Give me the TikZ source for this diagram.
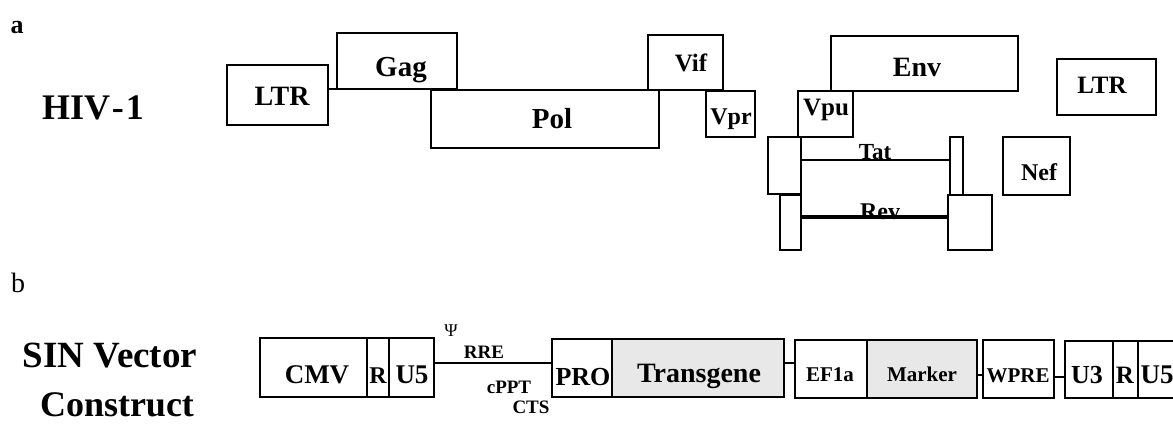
\documentclass[tikz,border=0pt]{standalone}
\usepackage{fontspec}
\setmainfont{Liberation Serif}
\usetikzlibrary{fit}
\newcommand\gbox[6][]{\node[box,#1,fit={(#3,#4) (#5,#6)}] (#2) {};}
\newcommand\fs[1]{\fontsize{#1}{#1}\selectfont\bfseries}
\begin{document}
\begin{tikzpicture}[x=1pt,y=-1pt,
  box/.style={draw, line width=2.2pt, inner sep=0pt, outer sep=0pt},
  conn/.style={line width=1.8pt},
  lbl/.style={anchor=base, inner sep=0pt, outer sep=0pt},
  shaded/.style={fill=black!9}]
\useasboundingbox (0,0) rectangle (1173,429);
% ---------- a ----------
\node[lbl, font=\fs{26}] (la) at (17,33) {a};
\node[lbl, font=\fs{36}] (hiv) at (93,119) {HIV\kern2pt-\kern2pt1};
\gbox{ltrA}{227}{65}{328}{125}
\gbox{gag}{337}{33}{457}{89}
\gbox{pol}{431}{90}{659}{148}
\gbox{vif}{648}{35}{723}{90}
\gbox{vpr}{706}{91}{755}{137}
\gbox{env}{831}{36}{1018}{91}
\gbox{ltrB}{1057}{59}{1156}{115}
\gbox{vpu}{798}{91}{853}{137}
\gbox{tatL}{768}{137}{801}{194}
\gbox{tatR}{950}{137}{963}{195}
\gbox{revL}{780}{195}{801}{250}
\gbox{revR}{948}{195}{992}{250}
\gbox{nef}{1003}{137}{1070}{195}
\node[lbl, font=\fs{28}] (tltrA) at (282,105) {LTR};
\node[lbl, font=\fs{29}] (tgag) at (401,76) {Gag};
\node[lbl, font=\fs{29}] (tpol) at (552,128) {Pol};
\node[lbl, font=\fs{25}] (tvif) at (691,71) {Vif};
\node[lbl, font=\fs{24}] (tvpr) at (731,124) {Vpr};
\node[lbl, font=\fs{28}] (tenv) at (917,76) {Env};
\node[lbl, font=\fs{25}] (tltrB) at (1102,93) {LTR};
\node[lbl, font=\fs{25}] (tvpu) at (826,115) {Vpu};
\node[lbl, font=\fs{23}] (ttat) at (875,159) {Tat};
\node[lbl, font=\fs{24}] (tnef) at (1039,180) {Nef};
\node[lbl, font=\fs{24}] (trev) at (880,219) {Rev};
\draw[conn] (gag.south west) -- (gag.south west -| ltrA.east);
\coordinate (tatY) at (0,160);
\coordinate (revY) at (0,217);
\draw[conn] (tatL.east |- tatY) -- (tatR.west |- tatY);
\draw[line width=4pt] (revL.east |- revY) -- (revR.west |- revY);
% ---------- b ----------
\node[lbl, font=\fontsize{28}{28}\selectfont] (lb) at (18,292) {b};
\node[lbl, font=\fs{37}] (sin) at (110,367) {SIN Vector};
\node[lbl, font=\fs{36}] (cons) at (117,416) {Construct};
\gbox{cmv}{260}{338}{367}{397}
\gbox{rA}{367}{338}{389}{397}
\gbox{u5A}{389}{338}{434}{397}
\gbox{pro}{552}{339}{612}{397}
\gbox[shaded]{trans}{612}{339}{784}{397}
\gbox{ef}{795}{340}{867}{398}
\gbox[shaded]{marker}{867}{340}{977}{398}
\gbox{wpre}{983}{340}{1054}{398}
\gbox{u3}{1065}{341}{1113}{398}
\gbox{rB}{1113}{341}{1138}{398}
\gbox{u5B}{1138}{341}{1178}{398}
\node[lbl, font=\fs{27}] (tcmv) at (317,383) {CMV};
\node[lbl, font=\fs{24}] (trA) at (378,383) {R};
\node[lbl, font=\fs{27}] (tu5A) at (412,383) {U5};
\node[lbl, font=\fs{26}] (tpro) at (583,385) {PRO};
\node[lbl, font=\fs{28}] (ttrans) at (699,382) {Transgene};
\node[lbl, font=\fs{21}] (tef) at (830,381) {EF1a};
\node[lbl, font=\fs{21}] (tmarker) at (922,381) {Marker};
\node[lbl, font=\fs{21}] (twpre) at (1018,382) {WPRE};
\node[lbl, font=\fs{26}] (tu3) at (1087,383) {U3};
\node[lbl, font=\fs{25}] (trB) at (1125,383) {R};
\node[lbl, font=\fs{27}] (tu5B) at (1157,383) {U5};
\node[font=\fontsize{18}{18}\selectfont, inner sep=0pt] (psi) at (451,331) {Ψ};
\node[lbl, font=\fs{19}] (rre) at (484,358) {RRE};
\node[lbl, font=\fs{19}] (cppt) at (509,393) {cPPT};
\node[lbl, font=\fs{19}] (cts) at (531,413) {CTS};
\coordinate (yA) at (0,363);
\coordinate (yB) at (0,375);
\coordinate (yC) at (0,377);
\draw[conn] (u5A.east |- yA) -- (pro.west |- yA);
\draw[conn] (trans.east |- yA) -- (ef.west |- yA);
\draw[conn] (marker.east |- yB) -- (wpre.west |- yB);
\draw[conn] (wpre.east |- yC) -- (u3.west |- yC);
\end{tikzpicture}
\end{document}
